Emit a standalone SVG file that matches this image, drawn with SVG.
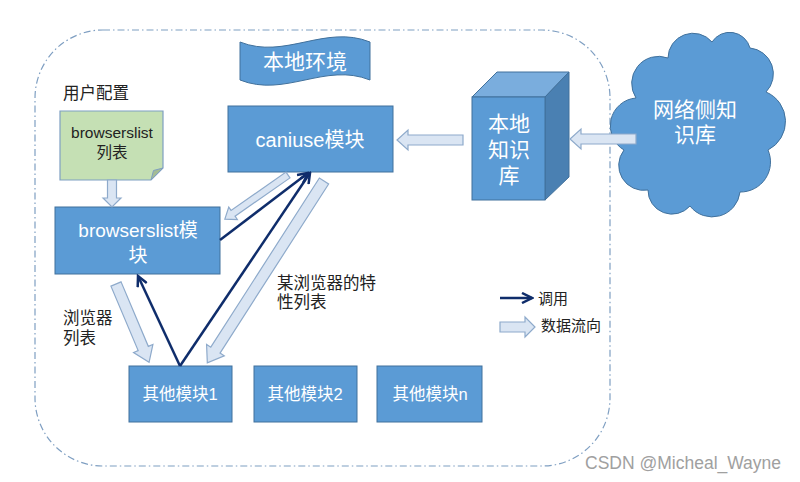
<svg xmlns="http://www.w3.org/2000/svg" width="800" height="482" viewBox="0 0 800 482">
<defs>
<style>
text{font-family:"Liberation Sans","Noto Sans CJK SC",sans-serif;}
.box{fill:#5b9bd5;stroke:#41719c;stroke-width:1;}
.wt{fill:#ffffff;text-anchor:middle;dominant-baseline:central;}
.bk{fill:#222222;dominant-baseline:central;}
.hollow{fill:#dae5f3;stroke:#8eaacb;stroke-width:1.2;}
.call{fill:none;stroke:#0f2d6b;stroke-width:2.5;marker-end:url(#ah);}
</style>
<marker id="ah" viewBox="0 0 13 12" refX="11" refY="6" markerWidth="13" markerHeight="12" markerUnits="userSpaceOnUse" orient="auto">
<path d="M1,1 L11,6 L1,11" fill="none" stroke="#0f2d6b" stroke-width="2.5" stroke-linejoin="miter"/>
</marker>
</defs>
<rect width="800" height="482" fill="#ffffff"/>

<g id="local-env-border">
<rect x="35" y="30" width="575" height="436" rx="68" ry="68" fill="none" stroke="#7f9fc2" stroke-width="1.2" stroke-dasharray="7 3 1.5 3"/>
</g>

<g id="banner">
<path d="M240,42 C285,60 325,24 370,42 L370,80 C325,62 285,98 240,80 Z" class="box"/>
<text x="305" y="61" class="wt" font-size="21">本地环境</text>
</g>

<g id="user-config">
<text x="63" y="93" class="bk" font-size="16.5">用户配置</text>
<path d="M60,111 H163 V168 L151,180 H60 Z" fill="#c5e0b4" stroke="#7f9fc2" stroke-width="1.2"/>
<path d="M163,168 L151,180 L153.5,170.5 Z" fill="#a4bc94" stroke="#7f9fc2" stroke-width="1"/>
<text x="112" y="132" class="bk" font-size="15.5" text-anchor="middle">browserslist</text>
<text x="112" y="152" class="bk" font-size="15.5" text-anchor="middle">列表</text>
</g>

<g id="caniuse">
<rect x="228" y="106" width="165" height="66" class="box"/>
<text x="310" y="140" class="wt" font-size="20">caniuse模块</text>
</g>

<g id="local-kb">
<polygon points="472,97 497,72 569,72 545,97" fill="#7aaddd" stroke="#41719c" stroke-width="1"/>
<polygon points="545,97 569,72 569,177 545,200" fill="#4a80b2" stroke="#41719c" stroke-width="1"/>
<rect x="472" y="97" width="73" height="103" class="box"/>
<text x="509" y="123" class="wt" font-size="21">本地</text>
<text x="509" y="149" class="wt" font-size="21">知识</text>
<text x="509" y="175" class="wt" font-size="21">库</text>
</g>

<g id="network-kb">
<path d="M624,150 A28,28 0 0 1 636,98 A27,27 0 0 1 668,58 A25,25 0 0 1 712,42 A21,21 0 0 1 750,48 A26,26 0 0 1 766,92 A32,32 0 0 1 768,150 A30,30 0 0 1 740,192 A28,28 0 0 1 690,206 A24,24 0 0 1 648,190 A25,25 0 0 1 624,150 Z" class="box"/>
<text x="695" y="109" class="wt" font-size="21">网络侧知</text>
<text x="695" y="134" class="wt" font-size="21">识库</text>
</g>

<g id="browserslist-module">
<rect x="55" y="207" width="165" height="67" class="box"/>
<text x="138" y="230" class="wt" font-size="19">browserslist模</text>
<text x="138" y="255" class="wt" font-size="19">块</text>
</g>

<g id="other-1">
<rect x="129" y="366" width="103" height="56" class="box"/>
<text x="180" y="394" class="wt" font-size="16.5">其他模块1</text>
</g>
<g id="other-2">
<rect x="254" y="366" width="103" height="56" class="box"/>
<text x="305" y="394" class="wt" font-size="16.5">其他模块2</text>
</g>
<g id="other-n">
<rect x="377" y="366" width="105" height="56" class="box"/>
<text x="430" y="394" class="wt" font-size="16.5">其他模块n</text>
</g>

<g id="connectors">
<path class="hollow" transform="translate(636,139) rotate(180)" d="M0,-5 H55 V-10 L66,0 L55,10 V5 H0 Z"/>
<path class="hollow" transform="translate(463,140) rotate(180)" d="M0,-5 H55 V-10 L66,0 L55,10 V5 H0 Z"/>
<path class="hollow" transform="translate(112,180) rotate(90)" d="M0,-4.5 H18 V-9 L27,0 L18,9 V4.5 H0 Z"/>
<path class="hollow" transform="translate(288,175) rotate(145.1)" d="M0,-3.5 H67 V-7.5 L77,0 L67,7.5 V3.5 H0 Z"/>
<path class="hollow" transform="translate(324,181) rotate(122.7)" d="M0,-5.5 H201 V-10.5 L216,0 L201,10.5 V5.5 H0 Z"/>
<path class="hollow" transform="translate(116,284) rotate(67.1)" d="M0,-5.5 H70 V-10.5 L85,0 L70,10.5 V5.5 H0 Z"/>
<line class="call" x1="220" y1="240" x2="308" y2="173"/>
<line class="call" x1="180" y1="366" x2="310" y2="173"/>
<line class="call" x1="180" y1="366" x2="138" y2="276"/>
</g>

<g id="labels">
<text x="63" y="318" class="bk" font-size="16.5">浏览器</text>
<text x="63" y="338" class="bk" font-size="16.5">列表</text>
<text x="277" y="283" class="bk" font-size="16.5">某浏览器的特</text>
<text x="277" y="302" class="bk" font-size="16.5">性列表</text>
</g>

<g id="legend">
<line class="call" x1="500" y1="298" x2="532" y2="298"/>
<text x="538" y="298" class="bk" font-size="15">调用</text>
<path class="hollow" transform="translate(500,327)" d="M0,-5 H25 V-10 L35,0 L25,10 V5 H0 Z"/>
<text x="541" y="325" class="bk" font-size="15">数据流向</text>
</g>

<text x="585" y="463" fill="#a0a0a0" font-size="17.5" dominant-baseline="central">CSDN @Micheal_Wayne</text>
</svg>
